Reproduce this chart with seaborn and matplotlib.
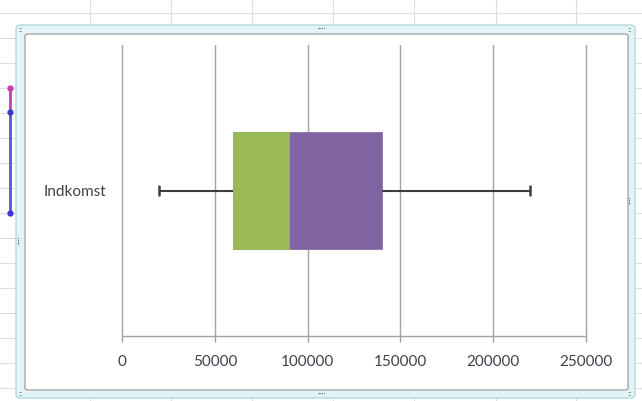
import numpy as np
import matplotlib
matplotlib.use("Agg")
import matplotlib.pyplot as plt
import seaborn as sns
from matplotlib.patches import FancyBboxPatch
from matplotlib.lines import Line2D

# box plot of income (Indkomst): min, Q1, median, Q3, max
category = ["Indkomst"]
values = [20000, 60000, 90000, 140000, 220000]
xticks = [0, 50000, 100000, 150000, 200000, 250000]

green = "#9bbb59"
purple = "#8064a2"
textcol = "#433f4d"

sns.set_style("white")
plt.rcParams["font.family"] = ["Lato", "DejaVu Sans"]

W, H = 642, 401
fig = plt.figure(figsize=(W / 100, H / 100), dpi=100)


def fx(px):
    return px / W


def fy(py):
    return 1 - py / H


# excel cell grid behind the chart object
for x in [90, 171, 252, 333, 414, 496, 576]:
    fig.add_artist(Line2D([fx(x), fx(x)], [0, 1], color="#dcdedf", lw=0.8, zorder=-5))
for y in range(13, 401, 25):
    fig.add_artist(Line2D([0, 1], [fy(y), fy(y)], color="#dcdedf", lw=0.8, zorder=-5))

# selection marker at the left edge
fig.add_artist(Line2D([fx(10), fx(10)], [fy(88), fy(112)], color="#c23fb5", lw=2, zorder=-4))
fig.add_artist(Line2D([fx(10), fx(10)], [fy(112), fy(213)], color="#5656d6", lw=2, zorder=-4))
for yy, c in [(88, "#c23fb5"), (112, "#3b3bd0"), (213, "#3b3bd0")]:
    fig.add_artist(Line2D([fx(10)], [fy(yy)], marker="o", ms=3.5, color=c, zorder=-4))

# chart frame (selected chart object)
outer = FancyBboxPatch((fx(16), fy(398)), fx(635) - fx(16), fy(25) - fy(398),
                       boxstyle="round,pad=0,rounding_size=0.008",
                       transform=fig.transFigure, facecolor="#e2f4f6",
                       edgecolor="#b3d9de", lw=1, zorder=-3)
inner = FancyBboxPatch((fx(25), fy(390)), fx(628) - fx(25), fy(34) - fy(390),
                       boxstyle="round,pad=0,rounding_size=0.005",
                       transform=fig.transFigure, facecolor="white",
                       edgecolor="#a6a6a6", lw=1, zorder=-2)
fig.add_artist(outer)
fig.add_artist(inner)
for (x, y, s) in [(322, 29, "····"), (322, 394, "····")]:
    fig.text(fx(x), fy(y), s, ha="center", va="center", fontsize=6, color="#606060", zorder=-1)
for (x, y) in [(631, 200), (20, 240)]:
    fig.text(fx(x), fy(y), "····", ha="center", va="center", fontsize=6,
             color="#606060", rotation=90, zorder=-1)
for (x, y) in [(21, 30), (630, 30), (21, 393), (630, 393)]:
    fig.text(fx(x), fy(y), "::", ha="center", va="center", fontsize=6,
             color="#606060", zorder=-1)

ax = fig.add_axes([fx(122), fy(336), fx(586) - fx(122), fy(45) - fy(336)])
ax.patch.set_visible(False)

sns.boxplot(x=values, y=category * len(values), ax=ax, orient="h", width=0.4,
            color=purple, saturation=1, showfliers=False,
            boxprops=dict(facecolor=purple, edgecolor=purple, linewidth=0.5),
            whiskerprops=dict(color="#3d3d3d", linewidth=1.5),
            capprops=dict(color="#3d3d3d", linewidth=1.8),
            medianprops=dict(linewidth=0),
            capwidths=0.03)

q1, med = np.percentile(values, [25, 50])
ax.barh(0, med - q1, left=q1, height=0.4, color=green, edgecolor=green,
        linewidth=0.5, zorder=5)

ax.set_xlim(0, 250000)
ax.set_ylim(0.5, -0.5)
ax.set_xticks(xticks)
ax.set_xticklabels([str(v) for v in xticks])
ax.grid(axis="x", color="#a3a3a3", lw=1)
for gl in ax.get_xgridlines():
    gl.set_clip_on(False)
ax.set_axisbelow(True)
for s in ["top", "right", "left"]:
    ax.spines[s].set_visible(False)
ax.spines["bottom"].set_color("#a3a3a3")
ax.spines["bottom"].set_linewidth(1)
ax.tick_params(axis="x", length=4, width=1, color="#a3a3a3", pad=10,
               labelsize=11, labelcolor=textcol, bottom=True)
ax.tick_params(axis="y", length=0, pad=11, labelsize=11, labelcolor=textcol)
ax.set_xlabel("")
ax.set_ylabel("")

fig.savefig("out.png", dpi=100)
